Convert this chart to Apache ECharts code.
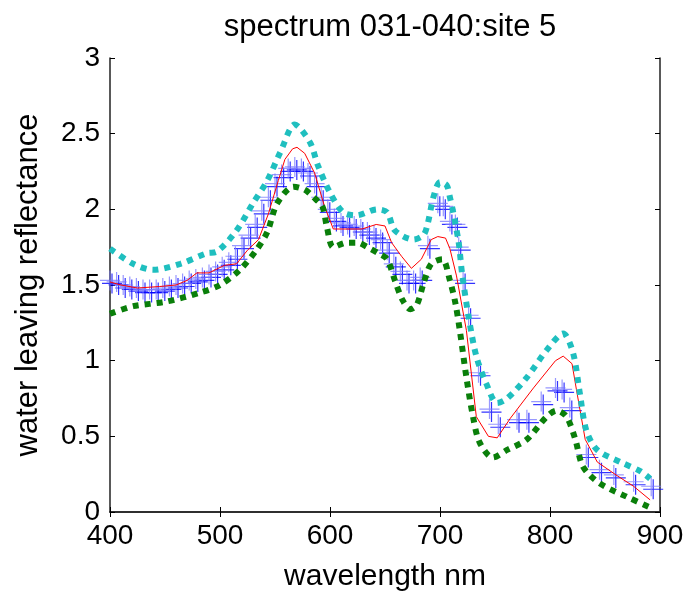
<!DOCTYPE html>
<html>
<head>
<meta charset="utf-8">
<script src="https://cdn.jsdelivr.net/npm/echarts@6/dist/echarts.min.js"></script>
<style>
html,body{margin:0;padding:0;background:#fff;}
#main{width:691px;height:599px;}
</style>
</head>
<body>
<div id="main"></div>
<script>
// wavelength (nm) of each sample point
var markWl  = [400,406,412,418,424,430,436,442,448,454,460,466,472,478,484,490,496,502,508,514,
               520,526,532,538,544,550,556,562,568,574,580,586,592,598,604,610,616,622,628,634,
               640,646,652,658,664,670,676,682,689,698,703,709,714,717,721,726,735,745,753,770,
               779,792,805,811,818,833,845,858,876,892];
var markVal = [1.53,1.52,1.50,1.49,1.48,1.47,1.47,1.47,1.48,1.49,1.50,1.51,1.53,1.54,1.55,1.57,1.59,1.62,1.65,1.69,
               1.76,1.83,1.90,1.99,2.08,2.17,2.23,2.27,2.28,2.27,2.24,2.17,2.08,2.00,1.94,1.91,1.90,1.89,1.87,1.85,
               1.83,1.80,1.73,1.64,1.59,1.53,1.53,1.55,1.76,2.04,2.02,1.92,1.90,1.75,1.53,1.30,0.92,0.68,0.58,0.61,
               0.61,0.73,0.82,0.81,0.69,0.38,0.28,0.245,0.20,0.17];

// mean spectrum (red)
var meanWl  = [400,410,425,445,460,470,479,490,504,515,525,535,544,553,559,566,570,577,586,595,
               603,629,642,650,656,665,674,683,692,698,705,709,715,724,733,744,752,764,785,805,
               812,820,824,832,843,861,876,891];
var meanVal = [1.52,1.50,1.48,1.49,1.50,1.53,1.58,1.58,1.63,1.64,1.73,1.80,1.97,2.19,2.33,2.40,2.41,2.37,2.24,2.02,
               1.87,1.87,1.90,1.89,1.78,1.69,1.61,1.67,1.80,1.82,1.81,1.74,1.56,1.20,0.63,0.50,0.49,0.62,0.82,1.00,
               1.03,0.98,0.81,0.48,0.33,0.24,0.17,0.08];

// upper envelope (cyan dotted)
var upWl  = [400,421,439,464,488,497,515,530,543,555,568,582,589,600,612,624,643,652,659,676,
             685,689,694,700,706,709,712,717,720,726,733,742,752,761,779,797,812,821,827,833,
             843,864,882,891];
var upVal = [1.74,1.64,1.60,1.64,1.71,1.72,1.86,2.04,2.19,2.38,2.56,2.44,2.29,2.11,1.98,1.96,2.00,1.98,1.86,1.80,
             1.83,1.91,2.08,2.18,2.16,2.08,1.98,1.78,1.58,1.29,1.03,0.85,0.72,0.75,0.89,1.07,1.18,1.05,0.79,0.54,
             0.41,0.33,0.27,0.22];

// lower envelope (green dotted)
var lowWl  = [400,421,451,482,500,518,533,543,552,567,577,585,593,597,603,615,625,634,644,652,
              659,666,673,679,685,692,702,709,714,718,724,730,736,748,761,779,797,806,815,823,
              830,845,870,891];
var lowVal = [1.31,1.36,1.39,1.45,1.50,1.60,1.73,1.85,2.04,2.15,2.13,2.08,2.02,1.89,1.75,1.78,1.78,1.75,1.71,1.67,
              1.53,1.40,1.34,1.37,1.51,1.64,1.67,1.53,1.38,1.20,0.89,0.63,0.46,0.36,0.41,0.48,0.63,0.67,0.63,0.48,
              0.30,0.19,0.10,0.03];

var xTicks = [400,500,600,700,800,900];
var yTicks = [0,0.5,1,1.5,2,2.5,3];

function pairs(xs, ys){
    var out = [];
    for (var i = 0; i < xs.length; i++) out.push([xs[i], ys[i]]);
    return out;
}

var FONT = '"Liberation Sans", Arial, sans-serif';
var PLUS = 'path://M0,9.4L20,9.4L20,10.6L0,10.6Z M9.4,0L10.6,0L10.6,20L9.4,20Z';

var myChart = echarts.init(document.getElementById('main'));

var tickOnly = {
    axisLine: {show: true, lineStyle: {color: '#222', width: 1.5}},
    axisTick: {show: true, inside: true, length: 5, lineStyle: {color: '#000'}},
    axisLabel: {show: false},
    splitLine: {show: false}
};

var option = {
    animation: false,
    backgroundColor: '#fff',
    title: {
        text: 'spectrum 031-040:site 5',
        left: 385,
        top: 7,
        textAlign: 'center',
        textStyle: {fontFamily: FONT, fontSize: 31, fontWeight: 'normal', color: '#000'}
    },
    grid: {left: 110, right: 31, top: 58, bottom: 87, outerBoundsMode: 'none', containLabel: false},
    xAxis: [
        {
            type: 'value', min: 400, max: 900, interval: 100, position: 'bottom',
            name: 'wavelength nm', nameLocation: 'middle', nameGap: 50,
            nameTextStyle: {fontFamily: FONT, fontSize: 30, color: '#000'},
            axisLine: {show: true, lineStyle: {color: '#222', width: 1.5}},
            axisTick: {show: true, inside: true, length: 5, lineStyle: {color: '#000'}},
            axisLabel: {fontFamily: FONT, fontSize: 28, color: '#000', margin: 10,
                        formatter: function(v){ return xTicks.indexOf(v) >= 0 ? String(v) : ''; }},
            splitLine: {show: false}
        },
        echarts.util.extend({type: 'value', min: 400, max: 900, interval: 100, position: 'top'}, tickOnly)
    ],
    yAxis: [
        {
            type: 'value', min: 0, max: 3, interval: 0.5, position: 'left',
            name: 'water leaving reflectance', nameLocation: 'middle', nameGap: 66,
            nameTextStyle: {fontFamily: FONT, fontSize: 31, color: '#000'},
            axisLine: {show: true, lineStyle: {color: '#222', width: 1.5}},
            axisTick: {show: true, inside: true, length: 5, lineStyle: {color: '#000'}},
            axisLabel: {fontFamily: FONT, fontSize: 28, color: '#000', margin: 10,
                        formatter: function(v){ return yTicks.indexOf(v) >= 0 ? String(v) : ''; }},
            splitLine: {show: false}
        },
        echarts.util.extend({type: 'value', min: 0, max: 3, interval: 0.5, position: 'right'}, tickOnly)
    ],
    series: [
        {
            name: 'samples shade', type: 'scatter', data: pairs(markWl, markVal),
            symbol: PLUS, symbolSize: 20, symbolOffset: [2, 3],
            itemStyle: {color: '#0000ff'}, z: 2
        },
        {
            name: 'samples', type: 'scatter', data: pairs(markWl, markVal),
            symbol: PLUS, symbolSize: 20,
            itemStyle: {color: 'rgba(120,120,255,0.95)'}, z: 3
        },
        {
            name: 'mean', type: 'line', data: pairs(meanWl, meanVal),
            showSymbol: false, lineStyle: {color: '#ff0000', width: 1}, z: 4
        },
        {
            name: 'upper', type: 'line', data: pairs(upWl, upVal),
            showSymbol: false, smooth: 0.3,
            lineStyle: {color: '#1fbfbf', width: 6, type: [6, 6], cap: 'butt'}, z: 5
        },
        {
            name: 'lower', type: 'line', data: pairs(lowWl, lowVal),
            showSymbol: false, smooth: 0.3,
            lineStyle: {color: '#0a7f0a', width: 6, type: [6, 6], cap: 'butt'}, z: 5
        }
    ]
};
myChart.setOption(option);
</script>
</body>
</html>
